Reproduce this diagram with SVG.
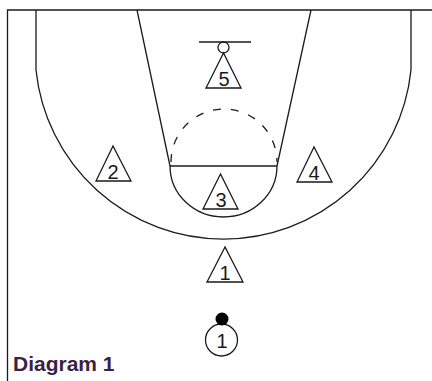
<svg xmlns="http://www.w3.org/2000/svg" width="432" height="381" viewBox="0 0 432 381">
<style>
.ln{fill:none;stroke:#1a1a1a;stroke-width:1.3}
.tri{fill:#fff;stroke:#1a1a1a;stroke-width:1.3;stroke-linejoin:miter}
.num{font-family:"Liberation Sans",Arial,sans-serif;font-size:20px;fill:#1a1a1a;text-anchor:middle}
.title{font-family:"Liberation Sans",Arial,sans-serif;font-size:21px;font-weight:bold;fill:#3d1f45}
</style>
<rect width="432" height="381" fill="#fff"/>
<g id="court">
<path class="ln" d="M7.5 381 V10 H432" stroke="#444"/>
<path class="ln" d="M36 10 V70 A188.5 188.5 0 0 0 411 70 V10"/>
<path class="ln" d="M137 10 L170 166 M311 10 L277 166"/>
<path class="ln" d="M170 166 H277"/>
<path class="ln" d="M170 166 A53.5 51 0 0 0 277 166"/>
<path class="ln" d="M199 42 H251"/>
<circle class="ln" cx="223.5" cy="47.5" r="5.5"/>
</g>
<g id="connectors">
<path class="ln" d="M171 162 A53 53 0 0 1 277 162" stroke-dasharray="8 10"/>
</g>
<g id="p5"><polygon class="tri" points="223.5,53 206,88 241,88"/><text class="num" x="224" y="86">5</text></g>
<g id="p2"><polygon class="tri" points="113,146 96,181 131,181"/><text class="num" x="113" y="179">2</text></g>
<g id="p4"><polygon class="tri" points="314,147 297,182 332,182"/><text class="num" x="314" y="180">4</text></g>
<g id="p3"><polygon class="tri" points="220.5,174 203,209 238,209"/><text class="num" x="221" y="207">3</text></g>
<g id="x1"><polygon class="tri" points="225,247 207,282 243,282"/><text class="num" x="225" y="280">1</text></g>
<g id="o1"><circle class="ln" cx="221.5" cy="340" r="16"/><text class="num" x="222" y="348">1</text><circle cx="222" cy="319" r="6.5" fill="#000"/></g>
<g id="title"><text class="title" x="13" y="371">Diagram 1</text></g>
</svg>
